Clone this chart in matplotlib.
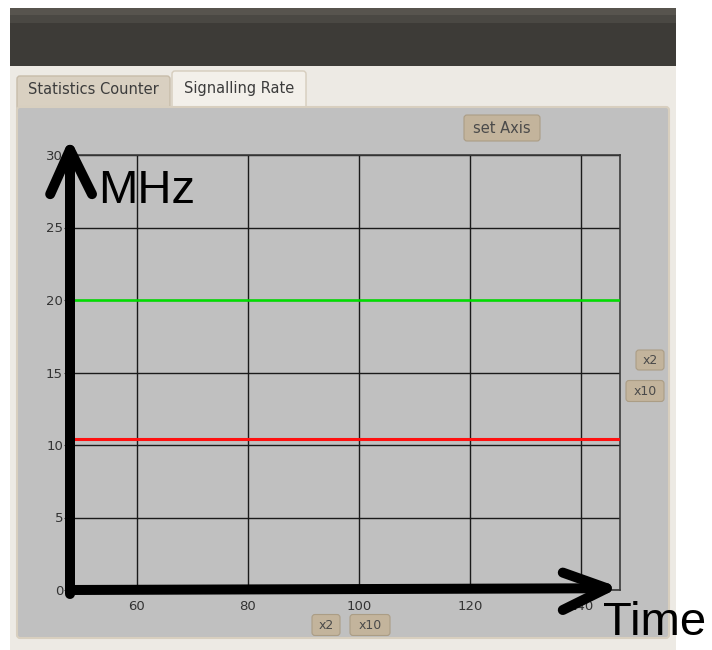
import matplotlib.pyplot as plt
from matplotlib.patches import Rectangle, FancyBboxPatch

# Data -------------------------------------------------------------
x_range = [48, 147]
y_range = [0, 30]
x_ticks = [60, 80, 100, 120, 140]
y_ticks = [0, 5, 10, 15, 20, 25, 30]
green_level = [20, 20]
red_level = [10.4, 10.4]
tab_labels = ['Statistics Counter', 'Signalling Rate']

W, H = 712, 650
fig = plt.figure(figsize=(W / 100, H / 100), dpi=100)
fig.patch.set_facecolor('white')

# background "window" drawn in pixel coordinates
bg = fig.add_axes([0, 0, 1, 1], zorder=0)
bg.set_xlim(0, W)
bg.set_ylim(H, 0)
bg.axis('off')

bg.add_patch(FancyBboxPatch((10, 8), 666, 70, boxstyle='round,pad=0,rounding_size=6',
                            facecolor='#3d3b37', edgecolor='none'))
bg.add_patch(Rectangle((10, 8), 666, 7, facecolor='#57544e', edgecolor='none'))
bg.add_patch(Rectangle((10, 15), 666, 8, facecolor='#4a4843', edgecolor='none'))
bg.add_patch(Rectangle((10, 66), 666, 590, facecolor='#edeae4', edgecolor='none'))

# tabs
bg.add_patch(FancyBboxPatch((17, 76), 153, 34, boxstyle='round,pad=0,rounding_size=3',
                            facecolor='#d9d0c1', edgecolor='#c7bca9', lw=1))
bg.add_patch(FancyBboxPatch((172, 71), 134, 40, boxstyle='round,pad=0,rounding_size=3',
                            facecolor='#f3f0ea', edgecolor='#d6cdbd', lw=1))
bg.text(93, 89, tab_labels[0], ha='center', va='center', fontsize=10.5, color='#3c3c3c')
bg.text(239, 88, tab_labels[1], ha='center', va='center', fontsize=10.5, color='#3c3c3c')

# grey panel
bg.add_patch(FancyBboxPatch((17, 107), 652, 531, boxstyle='round,pad=0,rounding_size=3',
                            facecolor='#c0c0c0', edgecolor='#d8cfbf', lw=1.5))


def button(cx, cy, w, h, label):
    bg.add_patch(FancyBboxPatch((cx - w / 2, cy - h / 2), w, h,
                                boxstyle='round,pad=0,rounding_size=3',
                                facecolor='#c3b49c', edgecolor='#ab9d85', lw=0.8, zorder=3))
    bg.text(cx, cy + 0.5, label, ha='center', va='center', fontsize=9,
            color='#4a4a4a', zorder=4)


button(502, 128, 76, 26, 'set Axis')
bg.texts[-1].set_fontsize(10.5)
button(650, 360, 28, 20, 'x2')
button(645, 391, 38, 21, 'x10')
button(326, 625, 28, 21, 'x2')
button(370, 625, 40, 21, 'x10')

# chart -------------------------------------------------------------
ax = fig.add_axes([70 / W, (H - 590) / H, 550 / W, 435 / H], zorder=2)
ax.set_facecolor('#c0c0c0')
ax.set_xlim(x_range)
ax.set_ylim(y_range)
ax.set_xticks(x_ticks)
ax.set_yticks(y_ticks)
ax.grid(True, color='#1a1a1a', lw=1)
for s in ax.spines.values():
    s.set_color('#3a3a3a')
    s.set_linewidth(1.2)
ax.tick_params(axis='y', length=4, width=0.8, color='#333333', labelsize=9.5,
               labelcolor='#333333', pad=1)
ax.tick_params(axis='x', length=0, labelsize=9.5, labelcolor='#333333', pad=7)

ax.plot(x_range, green_level, color='#00e000', lw=1.8, zorder=3)
ax.plot(x_range, red_level, color='#ff1010', lw=2.2, zorder=3)

# hand drawn arrows
lw = 7.2
kw = dict(color='black', lw=lw, transform=ax.transAxes, clip_on=False,
          solid_capstyle='round', solid_joinstyle='round', zorder=5)
ax.plot([0, 0], [-0.01, 1.012], **kw)
ax.plot([-0.036, 0, 0.04], [0.91, 1.012, 0.91], **kw)
ax.plot([0, 0.976], [0, 0.004], **kw)
ax.plot([0.896, 0.976, 0.896], [0.04, 0.004, -0.046], **kw)

fig.text(98 / W, 1 - 191 / H, 'MHz', fontsize=34, family='Liberation Sans',
         va='center', ha='left', zorder=6)
fig.text(603 / W, 1 - 623 / H, 'Time', fontsize=34, family='Liberation Sans',
         va='center', ha='left', zorder=6)

fig.savefig('out.png', dpi=100)
